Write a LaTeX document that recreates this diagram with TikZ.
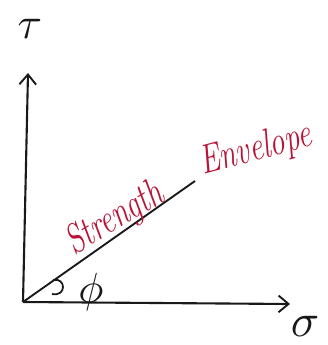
\documentclass[tikz,border=0pt]{standalone}
\usepackage{xcolor}
\usepackage{amsmath}
\usetikzlibrary{positioning,arrows.meta}
\definecolor{inkBlack}{RGB}{25,25,25}
\definecolor{inkRed}{RGB}{185,20,55}

\begin{document}
\begin{tikzpicture}[x=0.03cm, y=-0.03cm,
    axis/.style={draw=inkBlack, line width=1.8pt, -{Straight Barb[length=0.3cm, width=0.5cm, line width=1.6pt]}},
    envLabel/.style={inkRed, font=\fontsize{26}{30}\selectfont\itshape, inner sep=0pt}]
    \useasboundingbox (0,0) rectangle (327,345);
    % axes and envelope
    \coordinate (O) at (23,302);
    \coordinate (tauTip) at (28,73);
    \coordinate (sigmaTip) at (290,304);
    \coordinate (envEnd) at (195,181);
    \draw[axis] (O) -- (tauTip);
    \draw[axis] (O) -- (sigmaTip);
    \draw[inkBlack, line width=1.6pt] (O) -- (envEnd);
    % angle mark
    \draw[inkBlack, line width=1.5pt] (53,280) .. controls (66,277) and (67,297) .. (52,294);
    % labels
    \node[inkBlack, inner sep=0pt] (tau) at (30,29) {\scalebox{3.8}{$\tau$}};
    \node[inkBlack, inner sep=0pt] (sigma) at (305,326) {\scalebox{4}{$\sigma$}};
    \node[inkBlack, inner sep=0pt] (phi) at (91,292) {\scalebox{3.6}{$\phi$}};
    \node[envLabel, rotate=31] (strength) at (115,219) {\scalebox{1}[1.35]{Strength}};
    \node[envLabel, rotate=15] (envelope) at (256,150) {\scalebox{1}[1.35]{Envelope}};
\end{tikzpicture}
\end{document}
